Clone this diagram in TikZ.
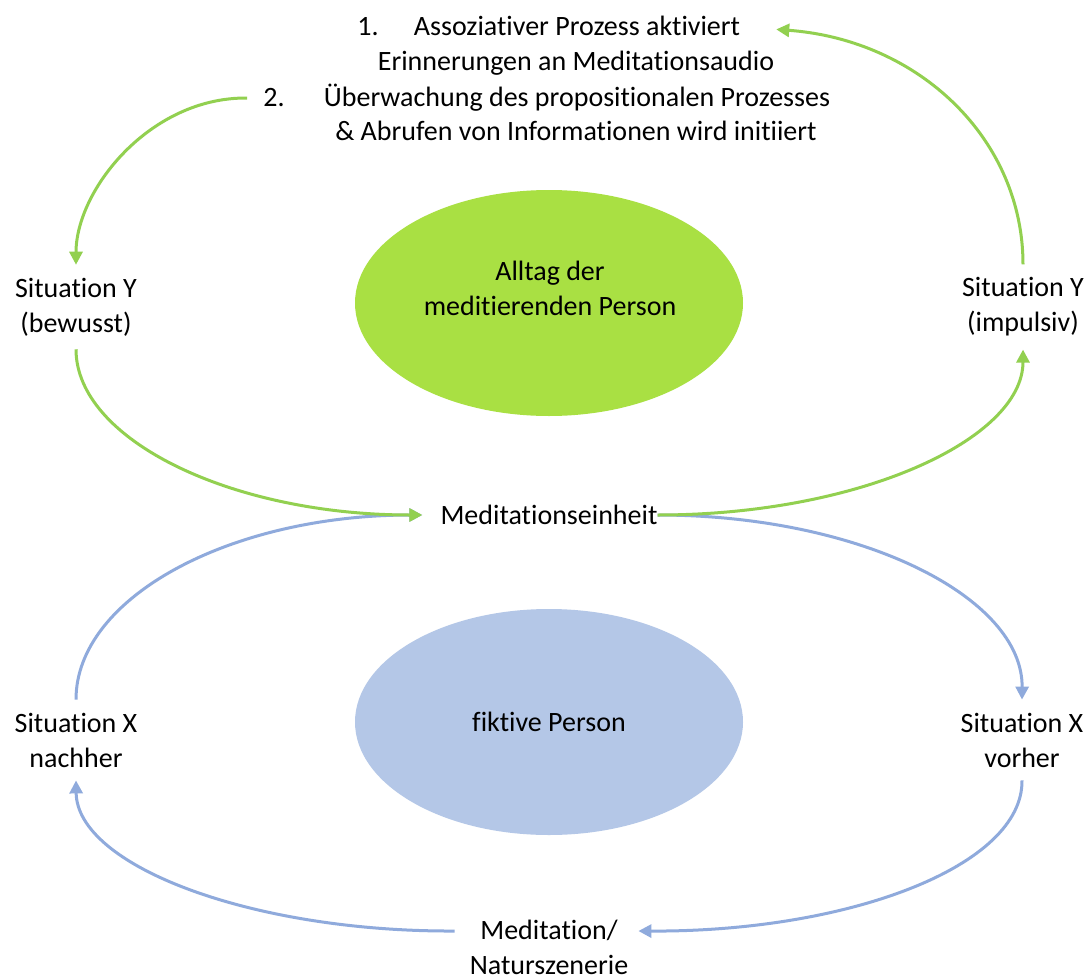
\documentclass[tikz,border=0pt]{standalone}
\usepackage{fontspec}
\setmainfont[RawFeature={-liga,-clig,-dlig}]{Carlito}
\usetikzlibrary{arrows.meta,shapes.geometric,calc}
\definecolor{gline}{HTML}{92D050}
\definecolor{gfill}{HTML}{A9E043}
\definecolor{bline}{HTML}{8FAADC}
\definecolor{bfill}{HTML}{B4C7E7}
\begin{document}
\begin{tikzpicture}[x=1pt,y=-1pt,
  lbl/.style={font=\fontsize{28}{35}\selectfont, align=center, inner sep=0pt},
  side/.style={lbl, inner xsep=2pt, inner ysep=13pt},
  blob/.style={ellipse, minimum width=388pt, minimum height=226pt, inner sep=0pt},
  conn/.style={line width=3pt, -{Triangle[length=13pt,width=13pt]}},
  garr/.style={conn, draw=gline},
  barr/.style={conn, draw=bline}]
\useasboundingbox (0,0) rectangle (1089,979);
\fill[white] (0,0) rectangle (1089,979);

% ellipses
\node[blob, fill=gfill] (alltag) at (549,303) {};
\node[lbl] (alltagtxt) at (550,288) {Alltag der\\meditierenden Person};
\node[blob, fill=bfill, font=\fontsize{28}{35}\selectfont] (fiktiv) at (549,722) {fiktive Person};

% top text
\node[lbl, anchor=base] (t1) at (577,36) {Assoziativer Prozess aktiviert};
\node[lbl, anchor=base] (n1) at (368,36) {1.};
\node[lbl, anchor=base] (t2) at (576,71) {Erinnerungen an Meditationsaudio};
\node[lbl, anchor=base] (t3) at (577,107) {Überwachung des propositionalen Prozesses};
\node[lbl, anchor=base] (n2) at (274,107) {2.};
\node[lbl, anchor=base] (t4) at (576,141) {\& Abrufen von Informationen wird initiiert};

% side labels
\node[side] (syb) at (76,307) {Situation Y\\(bewusst)};
\node[side] (syr) at (1023,307) {Situation Y\\(impulsiv)};
\node[side] (sxn) at (76,740) {Situation X\\nachher};
\node[side] (sxv) at (1022,740) {Situation X\\vorher};
\node[lbl] (me) at (549,515) {Meditationseinheit};
\node[lbl] (mn) at (549,947) {Meditation/\\Naturszenerie};

% blue connectors
\draw[barr] (sxn.north) .. controls (76,597) and (231,515) .. ([xshift=-18pt]me.west);
\draw[barr] (me.east) .. controls (860,515) and (1023,597) .. (sxv.north);
\draw[barr] (sxv.south) .. controls (1023,866) and (849,932) .. ([xshift=10pt,yshift=16pt]mn.east);
\draw[barr] ([xshift=-15pt,yshift=16pt]mn.west) .. controls (252,932) and (77,866) .. (sxn.south);

% green connectors
\draw[garr] ([xshift=-16pt]n2.west) .. controls (150,97) and (76,190) .. (syb.north);
\draw[garr] (syb.south) .. controls (76,440) and (232,515) .. ([xshift=-18pt]me.west);
\draw[garr] (me.east) .. controls (860,515) and (1023,439) .. (syr.south);
\draw[garr] (syr.north) .. controls (1023,140) and (920,40) .. ([xshift=36pt,yshift=-3pt]t1.east);
\end{tikzpicture}
\end{document}
